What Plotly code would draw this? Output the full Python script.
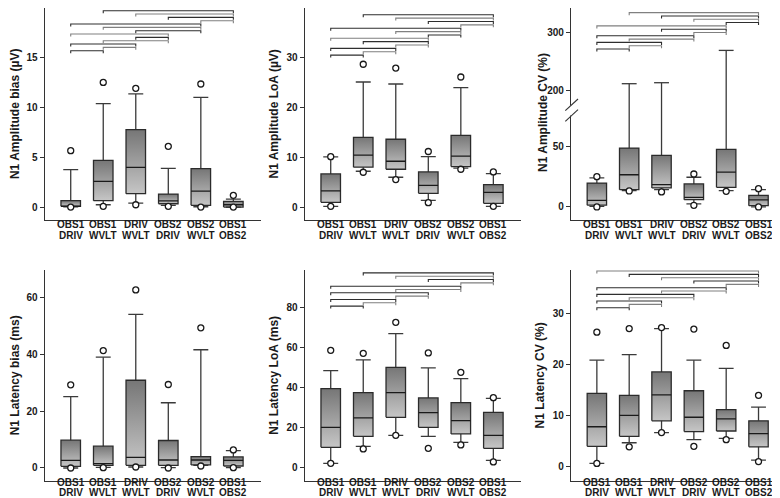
import plotly.graph_objects as go

categories = ["OBS1 DRIV", "OBS1 WVLT", "DRIV WVLT", "OBS2 DRIV", "OBS2 WVLT", "OBS1 OBS2"]

# N1 Amplitude bias (µV)
ab_q1 = [0.07, 0.64, 1.34, 0.33, 0.17, 0.0]
ab_med = [0.1, 2.58, 3.98, 0.62, 1.6, 0.23]
ab_q3 = [0.64, 4.68, 7.76, 1.3, 3.85, 0.57]
ab_lo = [0.03, 0.23, 0.4, 0.17, 0.03, 0.0]
ab_hi = [3.75, 10.37, 11.34, 3.88, 11.0, 0.8]
ab_p5 = [0.0, 0.07, 0.23, 0.07, 0.0, 0.0]
ab_p95 = [5.65, 12.5, 11.9, 6.09, 12.34, 1.17]

# N1 Amplitude LoA (µV)
al_q1 = [0.94, 7.99, 7.58, 2.75, 8.12, 0.74]
al_med = [3.22, 10.4, 9.19, 4.36, 10.2, 2.95]
al_q3 = [6.64, 14.0, 13.6, 7.05, 14.4, 4.5]
al_lo = [0.13, 7.18, 5.97, 1.34, 7.79, 0.13]
al_hi = [10.07, 25.1, 24.7, 10.13, 23.96, 6.7]
al_p5 = [0.13, 6.98, 5.5, 0.87, 7.58, 0.13]
al_p95 = [10.1, 28.66, 27.9, 11.14, 26.1, 7.05]

# N1 Amplitude CV (%)
ac_q1 = [1.5, 14.3, 15.7, 6.0, 16.2, 1.1]
ac_med = [5.5, 26.6, 18.4, 8.0, 28.8, 5.8]
ac_q3 = [19.7, 48.6, 42.6, 19.0, 47.5, 9.6]
ac_lo = [0.5, 13.5, 14.3, 2.5, 13.5, 0.0]
ac_hi = [24.0, 212.0, 213.7, 24.5, 269.1, 14.3]
ac_p5 = [0.0, 13.2, 12.4, 1.4, 12.9, 0.0]
ac_p95 = [25.0, None, None, 27.2, None, 15.1]

# N1 Latency bias (ms)
lb_q1 = [0.6, 0.94, 0.94, 0.94, 1.06, 0.7]
lb_med = [2.7, 1.53, 3.76, 2.8, 2.8, 2.7]
lb_q3 = [9.76, 7.65, 30.8, 9.65, 4.0, 3.9]
lb_lo = [0.0, 0.24, 0.35, 0.1, 0.94, 0.1]
lb_hi = [25.06, 38.9, 53.9, 22.9, 41.5, 6.1]
lb_p5 = [0.0, 0.12, 0.35, 0.0, 0.7, 0.1]
lb_p95 = [29.2, 41.2, 62.5, 29.3, 49.2, 6.35]

# N1 Latency LoA (ms)
ll_q1 = [10.0, 15.5, 25.0, 20.0, 16.7, 9.5]
ll_med = [20.0, 24.7, 37.3, 27.3, 23.3, 16.0]
ll_q3 = [39.3, 37.3, 50.0, 34.7, 32.3, 27.5]
ll_lo = [2.0, 10.5, 16.0, 15.5, 12.5, 3.5]
ll_hi = [48.3, 53.7, 66.8, 49.7, 44.3, 34.5]
ll_p5 = [2.0, 9.2, 16.0, 9.5, 11.2, 2.7]
ll_p95 = [58.5, 57.0, 72.5, 57.2, 47.5, 34.8]

# N1 Latency CV (%)
lc_q1 = [4.0, 5.95, 9.0, 6.9, 7.0, 3.9]
lc_med = [7.84, 10.07, 14.1, 9.7, 9.4, 6.5]
lc_q3 = [14.4, 14.0, 18.6, 14.9, 11.2, 9.0]
lc_lo = [0.65, 4.7, 6.7, 5.3, 5.55, 1.3]
lc_hi = [20.9, 22.0, 27.1, 20.9, 19.3, 11.7]
lc_p5 = [0.65, 3.9, 6.7, 4.0, 5.3, 1.0]
lc_p95 = [26.4, 27.1, 27.3, 27.0, 23.8, 14.0]

# significant pairs (category indices), listed from lowest bracket to highest
ab_pairs = [(0, 1), (1, 2), (0, 2), (1, 3), (2, 3), (0, 3), (2, 4), (1, 4), (0, 4), (4, 5), (3, 5), (2, 5), (1, 5)]
al_pairs = [(0, 1), (1, 2), (0, 2), (2, 3), (1, 3), (0, 3), (3, 4), (2, 4), (0, 4), (4, 5), (3, 5), (2, 5), (1, 5)]
ac_pairs = [(0, 1), (1, 2), (0, 2), (1, 3), (0, 3), (3, 4), (2, 4), (0, 4), (4, 5), (3, 5), (2, 5), (1, 5)]
lb_pairs = []
ll_pairs = [(0, 1), (1, 2), (0, 2), (2, 3), (0, 3), (2, 4), (0, 4), (4, 5), (3, 5), (2, 5), (1, 5)]
lc_pairs = [(0, 1), (1, 2), (0, 2), (1, 3), (0, 3), (2, 4), (0, 4), (4, 5), (3, 5), (2, 5), (1, 5), (0, 5)]

# ---------------- layout geometry (pixels) ----------------
W, H = 780, 498
FONT = "Liberation Sans, Arial, sans-serif"
HALF_BOX = 0.3
HALF_CAP = 0.23
DARK = "#2b2b2b"


def pxx(p):
    return p / W


def pxy(p):
    return 1 - p / H


cols = [(36.7, 253.0), (296.7, 513.0), (563.0, 778.0)]
top_row = (0.0, 211.7)
bot_row = (262.0, 472.7)
brk = 102.0

fig = go.Figure()


def add_box_panel(xa, ya, q1, med, q3, lo, hi, p5, p95, fill=True):
    n = len(q1)
    if fill:
        for i in range(n):
            fig.add_trace(go.Scatter(
                x=[i - HALF_BOX, i + HALF_BOX, i + HALF_BOX, i - HALF_BOX, i - HALF_BOX],
                y=[q1[i], q1[i], q3[i], q3[i], q1[i]],
                mode="lines", line=dict(width=0, color="rgba(0,0,0,0)"),
                fill="toself",
                fillgradient=dict(type="vertical",
                                  colorscale=[[0, "#c6c6c6"], [1, "#767676"]]),
                hoverinfo="skip", showlegend=False, xaxis=xa, yaxis=ya))
    wx, wy = [], []
    for i in range(n):
        wx += [i, i, None, i, i, None,
               i - HALF_CAP, i + HALF_CAP, None, i - HALF_CAP, i + HALF_CAP, None]
        wy += [q3[i], hi[i], None, q1[i], lo[i], None,
               hi[i], hi[i], None, lo[i], lo[i], None]
    fig.add_trace(go.Scatter(x=wx, y=wy, mode="lines", line=dict(color="#3a3a3a", width=1.3),
                             hoverinfo="skip", showlegend=False, xaxis=xa, yaxis=ya))
    bx, by = [], []
    for i in range(n):
        bx += [i - HALF_BOX, i + HALF_BOX, i + HALF_BOX, i - HALF_BOX, i - HALF_BOX, None]
        by += [q1[i], q1[i], q3[i], q3[i], q1[i], None]
    fig.add_trace(go.Scatter(x=bx, y=by, mode="lines", line=dict(color=DARK, width=1.3),
                             hoverinfo="skip", showlegend=False, xaxis=xa, yaxis=ya))
    mx, my = [], []
    for i in range(n):
        mx += [i - HALF_BOX, i + HALF_BOX, None]
        my += [med[i], med[i], None]
    fig.add_trace(go.Scatter(x=mx, y=my, mode="lines", line=dict(color="#1a1a1a", width=1.3),
                             hoverinfo="skip", showlegend=False, xaxis=xa, yaxis=ya))
    ox, oy = [], []
    for i in range(n):
        for v in (p5[i], p95[i]):
            if v is not None:
                ox.append(i)
                oy.append(v)
    fig.add_trace(go.Scatter(x=ox, y=oy, mode="markers",
                             marker=dict(symbol="circle", size=6, color="white",
                                         line=dict(color="#1a1a1a", width=1.3)),
                             hoverinfo="skip", showlegend=False, xaxis=xa, yaxis=ya))


def add_brackets(xa, ya, pairs, base, top, tick):
    if not pairs:
        return
    n = len(pairs)
    step = (top - base) / (n - 1) if n > 1 else 0
    groups = [([], []), ([], [])]
    for k, (a, b) in enumerate(pairs):
        h = base + k * step
        gx, gy = groups[k % 2]
        gx += [a, a, b, b, None]
        gy += [h - tick, h, h, h - tick, None]
    for (gx, gy), col in zip(groups, ["#2e2e2e", "#808080"]):
        fig.add_trace(go.Scatter(x=gx, y=gy, mode="lines", line=dict(color=col, width=1.1),
                                 hoverinfo="skip", showlegend=False, xaxis=xa, yaxis=ya))


def add_category_labels(xa, axis_bottom_px, off1, off2):
    for i, name in enumerate(categories):
        first, second = name.split(" ")
        for txt, off in ((first, off1), (second, off2)):
            fig.add_annotation(text=txt, x=i, xref=xa, y=pxy(axis_bottom_px + off),
                               yref="paper", showarrow=False, xanchor="center",
                               yanchor="middle", borderpad=0,
                               font=dict(family=FONT, size=10, color="#1a1a1a",
                                         weight="bold"))


# panels
add_box_panel("x", "y", ab_q1, ab_med, ab_q3, ab_lo, ab_hi, ab_p5, ab_p95)
add_brackets("x", "y", ab_pairs, 15.68, 19.69, 0.25)
add_box_panel("x2", "y2", al_q1, al_med, al_q3, al_lo, al_hi, al_p5, al_p95)
add_brackets("x2", "y2", al_pairs, 30.5, 38.6, 0.5)
add_box_panel("x3", "y3", ac_q1, ac_med, ac_q3, ac_lo, ac_hi, ac_p5, ac_p95)
add_box_panel("x7", "y7", ac_q1, ac_med, ac_q3, ac_lo, ac_hi, ac_p5, ac_p95, fill=False)
add_brackets("x7", "y7", ac_pairs, 271.5, 333.8, 4.3)
add_box_panel("x4", "y4", lb_q1, lb_med, lb_q3, lb_lo, lb_hi, lb_p5, lb_p95)
add_brackets("x4", "y4", lb_pairs, 0, 0, 0)
add_box_panel("x5", "y5", ll_q1, ll_med, ll_q3, ll_lo, ll_hi, ll_p5, ll_p95)
add_brackets("x5", "y5", ll_pairs, 80.6, 97.2, 1.25)
add_box_panel("x6", "y6", lc_q1, lc_med, lc_q3, lc_lo, lc_hi, lc_p5, lc_p95)
add_brackets("x6", "y6", lc_pairs, 31.2, 38.4, 0.5)

for xa in ("x", "x2", "x3"):
    add_category_labels(xa, top_row[1], 4.8, 16.0)
for xa in ("x4", "x5", "x6"):
    add_category_labels(xa, bot_row[1], 2.0, 11.5)

tickfont = dict(family=FONT, size=10, color="#1a1a1a", weight="bold")
titlefont = dict(family=FONT, size=12, color="#1a1a1a", weight="bold")


def xaxis_cfg(col, anchor, show=True):
    d = dict(domain=[pxx(cols[col][0]), pxx(cols[col][1])], range=[-0.8, 5.85],
             anchor=anchor, showgrid=False, zeroline=False, fixedrange=True,
             showticklabels=False, ticks="")
    if show:
        d.update(showline=True, linecolor="#333333", linewidth=1.2)
    else:
        d.update(showline=False)
    return d


def yaxis_cfg(row, anchor, rng, dtick, title=None, dom=None):
    dom = dom if dom is not None else [pxy(row[1]), pxy(row[0])]
    d = dict(domain=dom, range=rng, anchor=anchor, dtick=dtick, showgrid=False,
             zeroline=False, showline=True, linecolor="#333333", linewidth=1.2,
             ticks="outside", ticklen=4, tickcolor="#333333", tickwidth=1.2,
             tickfont=tickfont, fixedrange=True)
    if title:
        d["title"] = dict(text=title, font=titlefont, standoff=5)
    return d


fig.update_layout(
    width=W, height=H, margin=dict(l=0, r=0, t=0, b=0),
    paper_bgcolor="white", plot_bgcolor="white", showlegend=False,
    xaxis=xaxis_cfg(0, "y"),
    yaxis=yaxis_cfg(top_row, "x", [-1.27, 19.96], 5, "N1 Amplitude bias (µV)"),
    xaxis2=xaxis_cfg(1, "y2"),
    yaxis2=yaxis_cfg(top_row, "x2", [-2.55, 39.96], 10, "N1 Amplitude LoA (µV)"),
    xaxis3=xaxis_cfg(2, "y3"),
    yaxis3=yaxis_cfg(top_row, "x3", [-10.5, 80.0], 50, None,
                     dom=[pxy(top_row[1]), pxy(brk)]),
    xaxis7=xaxis_cfg(2, "y7", show=False),
    yaxis7=yaxis_cfg(top_row, "x7", [166.9, 341.8], 100, None,
                     dom=[pxy(brk), pxy(top_row[0])]),
    xaxis4=xaxis_cfg(0, "y4"),
    yaxis4=yaxis_cfg(bot_row, "x4", [-4.46, 69.5], 20, "N1 Latency bias (ms)"),
    xaxis5=xaxis_cfg(1, "y5"),
    yaxis5=yaxis_cfg(bot_row, "x5", [-6.7, 98.65], 20, "N1 Latency LoA (ms)"),
    xaxis6=xaxis_cfg(2, "y6"),
    yaxis6=yaxis_cfg(bot_row, "x6", [-2.75, 38.6], 10, "N1 Latency CV (%)"),
)

# shared title for the broken axis
fig.add_annotation(text="N1 Amplitude CV (%)", xref="paper", yref="paper",
                   x=pxx(535), y=pxy(105), textangle=-90, showarrow=False,
                   font=titlefont, xanchor="center", yanchor="middle")

# axis break marks
fig.add_shape(type="rect", xref="paper", yref="paper",
              x0=pxx(559), x1=pxx(567), y0=pxy(107.5), y1=pxy(97.5),
              fillcolor="white", line=dict(width=0), layer="above")
for y0, y1 in [(102.7, 91.0), (113.3, 101.7)]:
    fig.add_shape(type="line", xref="paper", yref="paper",
                  x0=pxx(557.3), x1=pxx(570), y0=pxy(y0), y1=pxy(y1),
                  line=dict(color="#333333", width=1.1), layer="above")

fig.write_html("out.html")
